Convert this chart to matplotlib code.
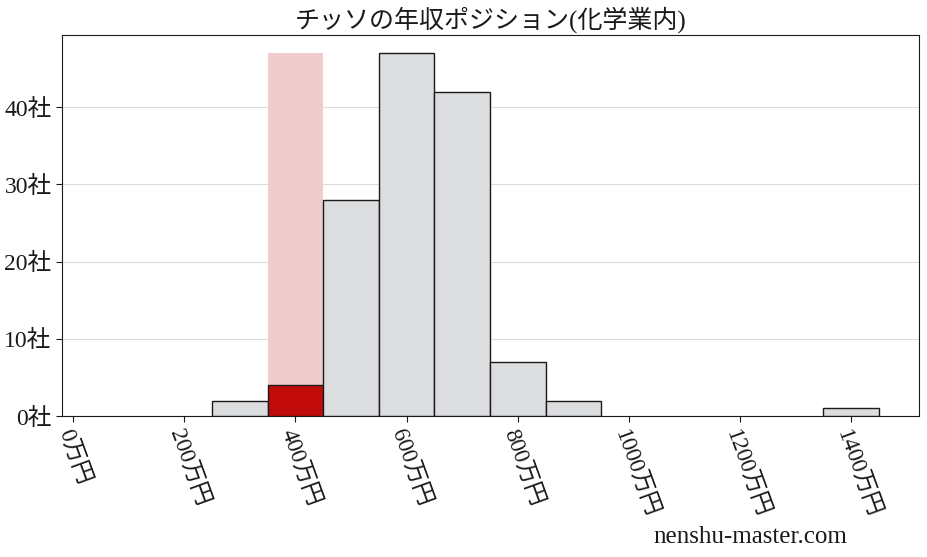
import matplotlib
matplotlib.use("Agg")
import matplotlib.pyplot as plt

plt.rcParams['font.family'] = ['Liberation Serif', 'Noto Sans CJK JP', 'DejaVu Sans']

title = "チッソの年収ポジション(化学業内)"
bin_left = [250, 350, 450, 550, 650, 750, 850, 1350]
counts = [2, 4, 28, 47, 42, 7, 2, 1]
bin_width = 100
highlight_left = 350
xticks = [0, 200, 400, 600, 800, 1000, 1200, 1400]
xtick_labels = [f"{v}万円" for v in xticks]
yticks = [0, 10, 20, 30, 40]
ytick_labels = [f"{v}社" for v in yticks]
watermark = "nenshu-master.com"

fig = plt.figure(figsize=(9.27, 5.57), dpi=100)
ax = fig.add_axes([62/927, 1-416/557, (919-62)/927, (416-35)/557])

ymax = max(counts)
ax.bar([highlight_left], [ymax], width=bin_width, align='edge',
       color='#f0cccd', edgecolor='none', zorder=2)
colors = ['#c20c0c' if l == highlight_left else '#dcdddf' for l in bin_left]
ax.bar(bin_left, counts, width=bin_width, align='edge', color=colors,
       edgecolor='#1a1a1a', linewidth=1.0, zorder=3)

ax.set_xlim(-20, 1522)
ax.set_ylim(0, ymax * 1.05)
ax.set_xticks(xticks)
ax.set_xticklabels(xtick_labels, rotation=-70, ha='left', va='top',
                   rotation_mode='anchor', fontsize=16.5)
ax.set_yticks(yticks)
ax.set_yticklabels(ytick_labels, fontsize=17)
ax.grid(axis='y', color='#dddddd', linewidth=0.8, zorder=0)
ax.set_axisbelow(True)
for s in ax.spines.values():
    s.set_color('#1a1a1a')
ax.tick_params(axis='both', length=4, color='#1a1a1a', labelcolor='#1a1a1a')
ax.set_title(title, fontsize=18, color='#1a1a1a', pad=5)

fig.text(750/927, 1-537/557, watermark, fontsize=18, ha='center', va='center',
         color='#1a1a1a')

fig.savefig("out.png", dpi=100)
